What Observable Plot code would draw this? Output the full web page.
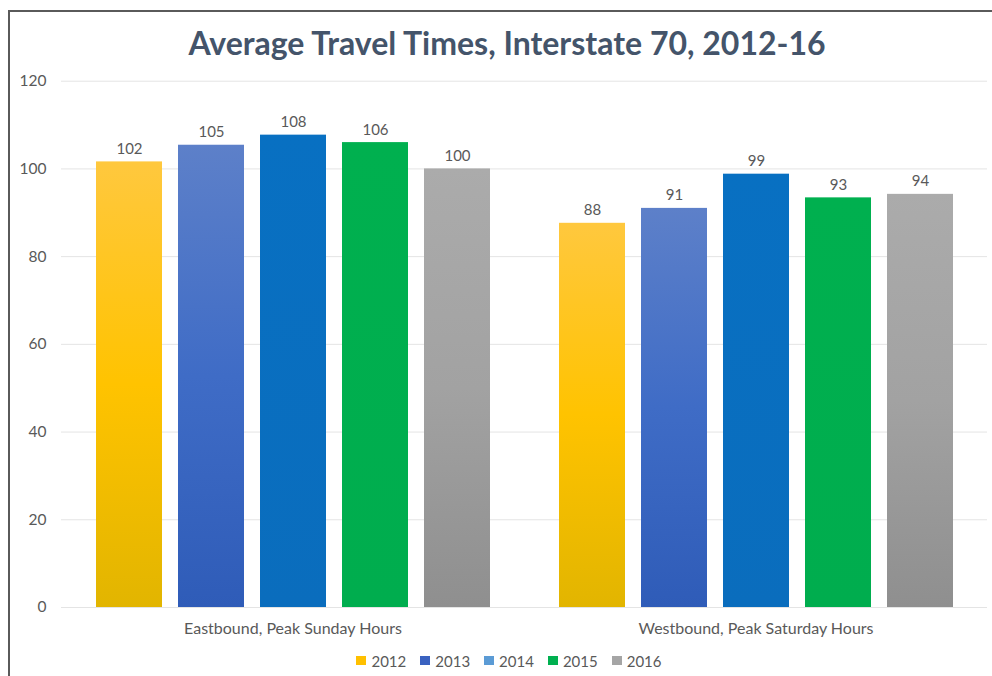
<!DOCTYPE html>
<html><head><meta charset="utf-8">
<script src="https://cdn.jsdelivr.net/npm/d3@7"></script>
<script src="https://cdn.jsdelivr.net/npm/@observablehq/plot@0.6"></script>
<style>
html,body{margin:0;padding:0;background:#fff;}
#wrap{position:relative;width:992px;height:676px;overflow:hidden;font-family:Lato,"Open Sans",sans-serif;}
#frame{position:absolute;left:8px;top:10px;width:1000px;height:700px;border-top:2px solid #5a5a5a;border-left:2px solid #5a5a5a;box-sizing:border-box;pointer-events:none;}
#title{height:70px;box-sizing:border-box;padding-top:28px;padding-left:22px;line-height:30px;text-align:center;font-size:32px;font-weight:700;color:#44546a;white-space:nowrap;}
#chart{height:575px;}
#chart svg{display:block;}
#legend{height:31px;display:flex;justify-content:center;align-items:center;padding-left:26px;box-sizing:border-box;font-size:15px;color:#595959;}
.item{display:flex;align-items:center;margin:0 7px;}
.sw{width:10px;height:9px;margin-right:5px;}
</style></head><body>
<div id="wrap">
<svg width="0" height="0" style="position:absolute">
<defs>
<linearGradient id="g2012" x1="0" y1="0" x2="0" y2="1">
<stop offset="0" stop-color="#ffc83e"/><stop offset="0.5" stop-color="#ffc300"/><stop offset="1" stop-color="#e2b500"/>
</linearGradient>
<linearGradient id="g2013" x1="0" y1="0" x2="0" y2="1">
<stop offset="0" stop-color="#5d80c9"/><stop offset="0.5" stop-color="#3f6cc6"/><stop offset="1" stop-color="#2f5cb8"/>
</linearGradient>
<linearGradient id="g2014" x1="0" y1="0" x2="0" y2="1">
<stop offset="0" stop-color="#0870c2"/><stop offset="1" stop-color="#0a6dbd"/>
</linearGradient>
<linearGradient id="g2015" x1="0" y1="0" x2="0" y2="1">
<stop offset="0" stop-color="#00b04f"/><stop offset="1" stop-color="#00ad4e"/>
</linearGradient>
<linearGradient id="g2016" x1="0" y1="0" x2="0" y2="1">
<stop offset="0" stop-color="#ababab"/><stop offset="0.5" stop-color="#a2a2a2"/><stop offset="1" stop-color="#8f8f8f"/>
</linearGradient>
</defs>
</svg>
<div id="frame"></div>
<div id="title">Average Travel Times, Interstate 70, 2012-16</div>
<div id="chart"></div>
<div id="legend"></div>
</div>
<script>
const groups = ["Eastbound, Peak Sunday Hours", "Westbound, Peak Saturday Hours"];
const years = ["2012", "2013", "2014", "2015", "2016"];
const eastbound = [101.6, 105.4, 107.7, 106.0, 100.0];
const westbound = [87.6, 91.0, 98.8, 93.4, 94.2];
const yTicks = [0, 20, 40, 60, 80, 100, 120];
const barFills = ["url(#g2012)", "url(#g2013)", "url(#g2014)", "url(#g2015)", "url(#g2016)"];
const legendColors = ["#ffc000", "#3a62c0", "#5b9bd5", "#00b050", "#a5a5a5"];

const data = [];
years.forEach((yr, i) => {
  data.push({group: groups[0], year: yr, value: eastbound[i]});
  data.push({group: groups[1], year: yr, value: westbound[i]});
});

const chart = Plot.plot({
  width: 992,
  height: 575,
  marginLeft: 60,
  marginRight: 5,
  marginTop: 10.7,
  marginBottom: 38,
  fx: {domain: groups, padding: 0},
  x: {domain: years, paddingInner: 0.2, paddingOuter: 0.409, axis: null},
  y: {domain: [0, 120]},
  color: {domain: years, range: barFills},
  style: {fontFamily: "Lato, 'Open Sans', sans-serif", fontSize: "15px", color: "#595959", background: "transparent"},
  marks: [
    Plot.gridY(yTicks, {stroke: "#e4e4e4", strokeOpacity: 1}),
    Plot.axisY(yTicks, {tickSize: 0, tickPadding: 15, label: null, fontSize: 15.5}),
    Plot.axisFx({anchor: "bottom", tickSize: 0, tickPadding: 15, label: null, fontSize: 16}),
    Plot.barY(data, {fx: "group", x: "year", y: "value", fill: "year"}),
    Plot.text(data, {fx: "group", x: "year", y: "value", text: d => d3.format(".0f")(d.value),
      lineAnchor: "bottom", dy: -8, fill: "#595959", fontSize: 15})
  ]
});
document.getElementById("chart").appendChild(chart);

const legend = d3.select("#legend");
years.forEach((yr, i) => {
  const it = legend.append("div").attr("class", "item");
  it.append("div").attr("class", "sw").style("background", legendColors[i]);
  it.append("span").text(yr);
});
</script>
</body></html>
